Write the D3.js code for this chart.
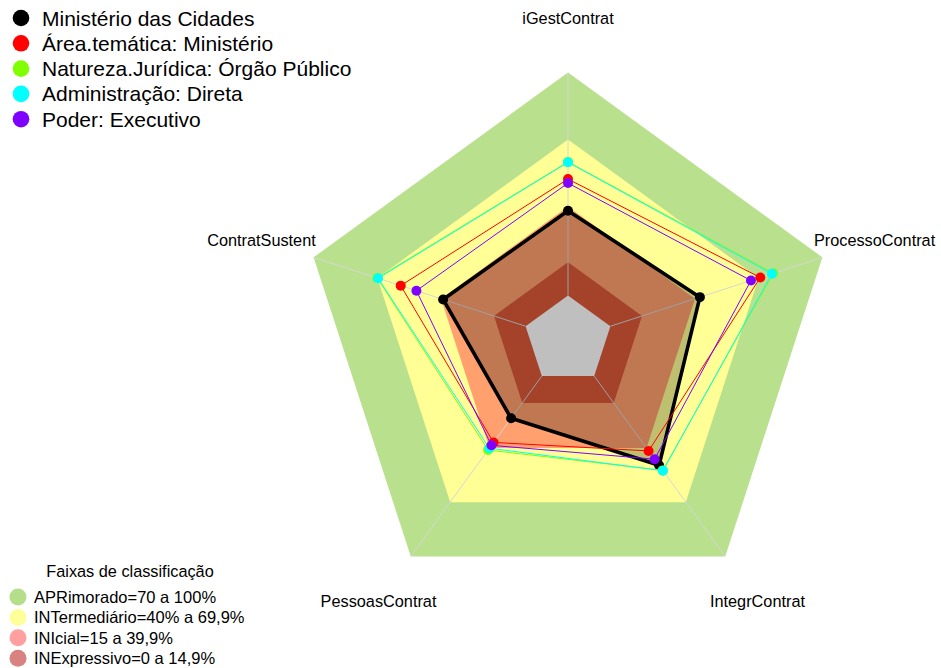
<!DOCTYPE html>
<html><head><meta charset="utf-8">
<script src="https://cdn.jsdelivr.net/npm/d3@7"></script>
<style>html,body{margin:0;padding:0;background:#fff;} svg{display:block;font-family:"Liberation Sans",Arial,sans-serif;}</style>
</head><body><svg id="c" width="941" height="668"></svg>
<script>
const axes = ["iGestContrat","ProcessoContrat","IntegrContrat","PessoasContrat","ContratSustent"];
const seriesNames = ["Ministério das Cidades","Área.temática: Ministério","Natureza.Jurídica: Órgão Público","Administração: Direta","Poder: Executivo"];
const seriesColors = ["#000000","#FF0000","#80FF00","#00FFFF","#8000FF"];
const ministerio = [38.0, 42.2, 49.5, 23.4, 38.9];
const areaTematica = [52.2, 70.7, 41.5, 36.8, 58.9];
const naturezaJuridica = [59.9, 76.8, 52.3, 41.0, 70.0];
const administracao = [59.7, 76.2, 52.5, 40.0, 69.6];
const poder = [50.4, 66.3, 46.1, 38.4, 51.5];
const seriesValues = [ministerio, areaTematica, naturezaJuridica, administracao, poder];

const bandLabels = ["APRimorado=70 a 100%","INTermediário=40% a 69,9%","INIcial=15 a 39,9%","INExpressivo=0 a 14,9%"];
const bandUpper = [100, 69.9, 39.9, 14.9];
const bandFill = ["#B9E08C","#FFFF96","#FFA06E","#DC5838"];
const bandLegendColors = ["#B5DE8A","#FFFF9A","#FF9F9F","#D98282"];
const legendTitle = "Faixas de classificação";

const svg = d3.select("#c");
const cx = 568, cy = 340, R = 267.5;
const r = d3.scaleLinear().domain([0,100]).range([R/6, R]);
const ang = d3.scaleLinear().domain([0, axes.length]).range([Math.PI/2, Math.PI/2 - 2*Math.PI]);
const pt = (v,i) => [cx + r(v)*Math.cos(ang(i)), cy - r(v)*Math.sin(ang(i))];
const line = d3.line().curve(d3.curveLinearClosed);

const gBands = svg.append("g"), gSpokes = svg.append("g"), gFill = svg.append("g"), gLines = svg.append("g");
bandUpper.forEach((b,k)=>{
  gBands.append("path").attr("d", line(axes.map((a,i)=>pt(b,i)))).attr("fill", bandFill[k]);
});
gBands.append("path").attr("d", line(axes.map((a,i)=>pt(0,i)))).attr("fill", "#ffffff");
axes.forEach((a,i)=>{
  const p0 = pt(0,i), p1 = pt(100,i);
  gSpokes.append("line").attr("x1",p0[0]).attr("y1",p0[1]).attr("x2",p1[0]).attr("y2",p1[1])
    .attr("stroke","#d6d6d6").attr("stroke-width",1);
});
seriesValues.forEach((vals,s)=>{
  const pts = vals.map((v,i)=>pt(v,i));
  if (s===0) gFill.append("path").attr("d", line(pts)).attr("fill","rgba(0,0,0,0.25)");
  gLines.append("path").attr("d", line(pts)).attr("fill","none")
    .attr("stroke", seriesColors[s]).attr("stroke-width", s===0 ? 3.6 : 1)
    .attr("stroke-linejoin","round");
  pts.forEach(p=>{
    gLines.append("circle").attr("cx",p[0]).attr("cy",p[1]).attr("r", 5).attr("fill", seriesColors[s]);
  });
});
axes.forEach((a,i)=>{
  const rr = R*1.205;
  const x = cx + rr*Math.cos(ang(i)), y = cy - rr*Math.sin(ang(i));
  svg.append("text").attr("x",x).attr("y",y).attr("text-anchor","middle").attr("dominant-baseline","central")
    .attr("font-size",16.3).attr("fill","#000").text(a);
});
seriesNames.forEach((n,k)=>{
  const y = 18 + k*25.3;
  svg.append("circle").attr("cx",21).attr("cy",y).attr("r",8.3).attr("fill",seriesColors[k]);
  svg.append("text").attr("x",42).attr("y",y).attr("dominant-baseline","central").attr("font-size",21).attr("fill","#000").text(n);
});
svg.append("text").attr("x",130).attr("y",571).attr("text-anchor","middle").attr("dominant-baseline","central")
  .attr("font-size",16.3).attr("fill","#000").text(legendTitle);
bandLabels.forEach((n,k)=>{
  const y = 597 + k*20.4;
  svg.append("circle").attr("cx",18).attr("cy",y).attr("r",8.5).attr("fill",bandLegendColors[k]);
  svg.append("text").attr("x",34).attr("y",y).attr("dominant-baseline","central").attr("font-size",16.5).attr("fill","#000").text(n);
});
</script></body></html>
